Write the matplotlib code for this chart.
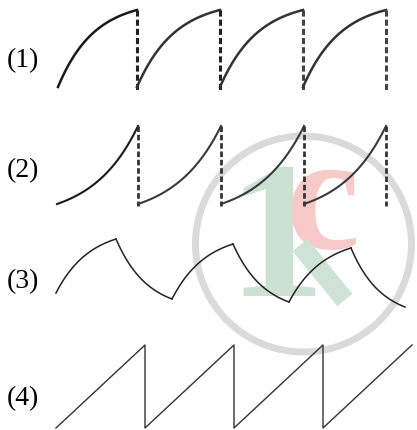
import numpy as np
import matplotlib.pyplot as plt
from matplotlib.patches import Circle

# values (pixel units, y down)
labels = ["(1)", "(2)", "(3)", "(4)"]
label_y = [61, 171, 282, 399]

# (1) concave charging teeth with dashed resets
row1_edges = [58, 137, 220, 303, 386]
row1_low, row1_high, row1_dash_bottom = 87, 10, 92

# (2) convex teeth with dashed resets
row2_edges = [57, 138, 221, 304, 386]
row2_low, row2_high, row2_dash_bottom = 204, 126, 206

# (3) charge / discharge turning points
row3_x = [56, 116, 172, 233, 289, 351, 405]
row3_y = [293, 239, 299, 244, 302, 248, 307]

# (4) linear sawtooth
row4_edges = [56, 145, 234, 323, 412]
row4_low, row4_high = 428, 345


def saturating(x0, y0, x1, y1, k=2.2, n=60):
    t = np.linspace(0, 1, n)
    s = (1 - np.exp(-k * t)) / (1 - np.exp(-k))
    return x0 + (x1 - x0) * t, y0 + (y1 - y0) * s


def growing(x0, y0, x1, y1, k=1.8, n=60):
    t = np.linspace(0, 1, n)
    s = (np.exp(k * t) - 1) / (np.exp(k) - 1)
    return x0 + (x1 - x0) * t, y0 + (y1 - y0) * s


fig = plt.figure(figsize=(4.17, 4.30), dpi=100)
ax = fig.add_axes([0, 0, 1, 1])
ax.set_xlim(0, 417)
ax.set_ylim(430, 0)
ax.axis("off")

# watermark
ax.add_patch(Circle((303.5, 244), 108, fill=False, lw=5, ec="#dadada", zorder=0))
ax.text(276, 250, "1", fontsize=140, family="Liberation Serif", fontweight="bold",
        color="#cde0d4", ha="center", va="center", zorder=0)
ax.text(322, 208, "c", fontsize=120, family="Liberation Serif", fontweight="bold",
        color="#f7c9c9", ha="center", va="center", zorder=0)
ax.plot([300, 345], [245, 300], lw=14, color="#cfe2d6", solid_capstyle="butt", zorder=0)

for lab, y in zip(labels, label_y):
    ax.text(7, y, lab, fontsize=20, family="Liberation Serif", va="center", ha="left")

# row 1
for i in range(4):
    x, y = saturating(row1_edges[i], row1_low, row1_edges[i + 1], row1_high)
    ax.plot(x, y, color="#1a1a1a" if i == 0 else "#333333", lw=1.8)
    ax.plot([row1_edges[i + 1]] * 2, [row1_high, row1_dash_bottom],
            color="#222222" if i < 2 else "#444444", lw=2.2, ls=(0, (2, 1)))

# row 2
for i in range(4):
    x, y = growing(row2_edges[i], row2_low, row2_edges[i + 1], row2_high)
    ax.plot(x, y, color="#1a1a1a" if i == 0 else "#3a3a3a", lw=1.5)
    ax.plot([row2_edges[i + 1]] * 2, [row2_high, row2_dash_bottom],
            color="#333333", lw=2.0, ls=(0, (2, 1)))

# row 3
for i in range(len(row3_x) - 1):
    x, y = saturating(row3_x[i], row3_y[i], row3_x[i + 1], row3_y[i + 1], k=1.8)
    ax.plot(x, y, color="#222222", lw=1.1)

# row 4
xs, ys = [row4_edges[0]], [row4_low]
for e in row4_edges[1:]:
    xs += [e, e]
    ys += [row4_high, row4_low]
ax.plot(xs[:-1], ys[:-1], color="#333333", lw=1.0)

fig.savefig("out.png", dpi=100)
